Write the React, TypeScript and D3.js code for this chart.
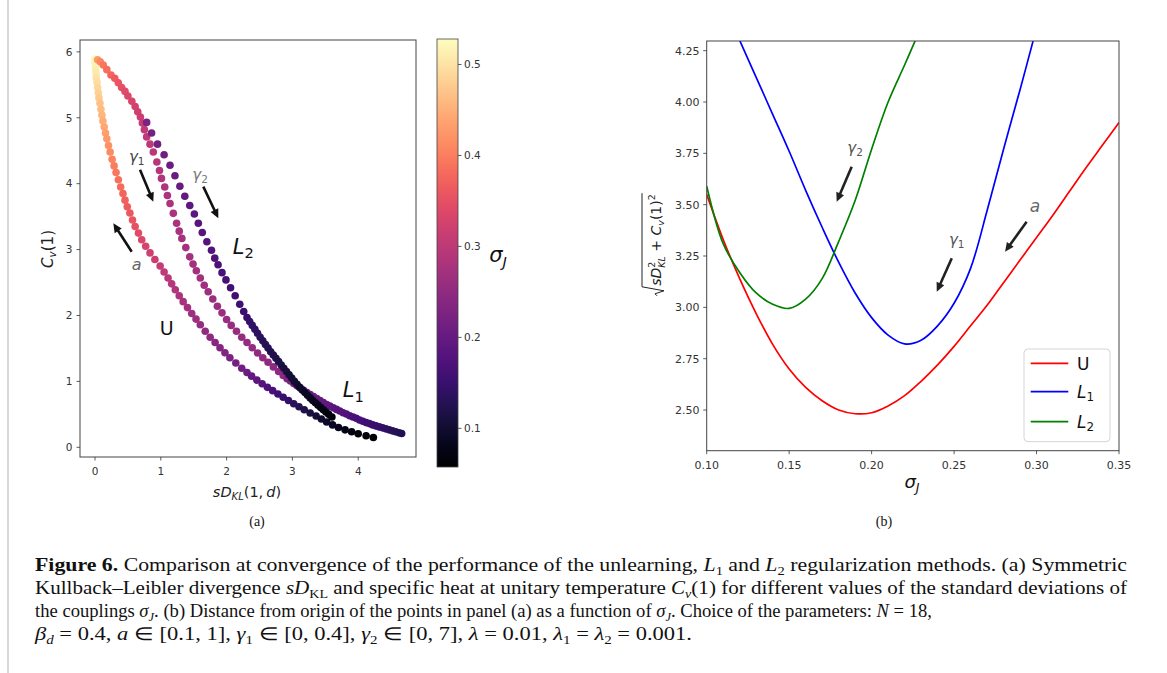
import React, { useLayoutEffect, useRef, useState } from "react";
import * as d3 from "d3";

// ---------- Panel (a): scatter points [sD_KL(1,d), Cv(1), sigma_J] ----------
const uPoints: [number, number, number][] = [
  [0.0, 5.89, 0.525], [0.0, 5.85, 0.522], [0.005, 5.8, 0.518], [0.01, 5.74, 0.513], [0.015, 5.68, 0.508],
  [0.02, 5.61, 0.502], [0.03, 5.54, 0.496], [0.04, 5.46, 0.49], [0.05, 5.38, 0.483], [0.06, 5.3, 0.476],
  [0.075, 5.22, 0.469], [0.09, 5.13, 0.462], [0.105, 5.04, 0.455], [0.12, 4.95, 0.448], [0.14, 4.86, 0.441],
  [0.16, 4.77, 0.434], [0.18, 4.68, 0.427], [0.205, 4.58, 0.42], [0.23, 4.48, 0.413], [0.26, 4.37, 0.406],
  [0.29, 4.27, 0.4], [0.32, 4.17, 0.394], [0.355, 4.06, 0.388], [0.39, 3.95, 0.382], [0.425, 3.85, 0.376],
  [0.456, 3.75, 0.371], [0.49, 3.65, 0.366], [0.53, 3.555, 0.361], [0.57, 3.45, 0.356], [0.61, 3.35, 0.351],
  [0.66, 3.25, 0.343], [0.71, 3.15, 0.336], [0.77, 3.05, 0.329], [0.836, 2.95, 0.322], [0.91, 2.85, 0.315],
  [0.99, 2.75, 0.308], [1.05, 2.66, 0.302], [1.11, 2.57, 0.297], [1.165, 2.48, 0.292], [1.22, 2.39, 0.287],
  [1.28, 2.3, 0.282], [1.34, 2.21, 0.277], [1.405, 2.12, 0.272], [1.47, 2.03, 0.267], [1.535, 1.945, 0.262],
  [1.6, 1.86, 0.257], [1.675, 1.76, 0.252], [1.75, 1.67, 0.247], [1.825, 1.59, 0.242], [1.9, 1.51, 0.237],
  [1.975, 1.435, 0.232], [2.05, 1.36, 0.226], [2.14, 1.28, 0.22], [2.23, 1.2, 0.214], [2.31, 1.135, 0.207],
  [2.38, 1.08, 0.198], [2.46, 1.02, 0.19], [2.54, 0.965, 0.182], [2.62, 0.91, 0.174], [2.7, 0.86, 0.166],
  [2.78, 0.81, 0.158], [2.86, 0.76, 0.15], [2.94, 0.71, 0.142], [3.02, 0.66, 0.134], [3.1, 0.615, 0.127],
  [3.18, 0.57, 0.12], [3.27, 0.52, 0.113], [3.36, 0.475, 0.106], [3.44, 0.43, 0.099], [3.52, 0.385, 0.093],
  [3.61, 0.34, 0.087], [3.7, 0.3, 0.082], [3.8, 0.265, 0.077], [3.9, 0.235, 0.072], [4.0, 0.205, 0.067],
  [4.12, 0.175, 0.062], [4.23, 0.15, 0.058],
];

const l1Points: [number, number, number][] = [
  [0.04, 5.88, 0.43], [0.08, 5.85, 0.41], [0.126, 5.8, 0.395], [0.18, 5.73, 0.385], [0.243, 5.65, 0.375],
  [0.3, 5.6, 0.365], [0.354, 5.53, 0.357], [0.405, 5.46, 0.35], [0.456, 5.4, 0.343], [0.5, 5.33, 0.337],
  [0.56, 5.25, 0.331], [0.61, 5.17, 0.325], [0.65, 5.09, 0.32], [0.69, 5.01, 0.315], [0.72, 4.92, 0.311],
  [0.75, 4.82, 0.307], [0.785, 4.71, 0.303], [0.836, 4.6, 0.3], [0.886, 4.48, 0.297], [0.94, 4.33, 0.294],
  [0.98, 4.2, 0.291], [1.01, 4.08, 0.288], [1.06, 3.95, 0.285], [1.1, 3.82, 0.283], [1.14, 3.7, 0.282],
  [1.19, 3.55, 0.28], [1.24, 3.4, 0.279], [1.28, 3.28, 0.278], [1.32, 3.17, 0.276], [1.38, 3.03, 0.275],
  [1.44, 2.89, 0.273], [1.49, 2.78, 0.272], [1.54, 2.68, 0.271], [1.6, 2.57, 0.269], [1.66, 2.46, 0.268],
  [1.72, 2.36, 0.266], [1.79, 2.25, 0.265], [1.86, 2.14, 0.264], [1.93, 2.04, 0.262], [2.0, 1.94, 0.261],
  [2.07, 1.85, 0.259], [2.15, 1.76, 0.258], [2.23, 1.67, 0.257], [2.31, 1.59, 0.255], [2.39, 1.51, 0.254],
  [2.47, 1.43, 0.252], [2.55, 1.36, 0.251], [2.63, 1.29, 0.25], [2.71, 1.22, 0.248], [2.79, 1.15, 0.247],
  [2.86, 1.09, 0.245],
  [2.92, 1.04, 0.23], [2.97, 1.005, 0.227], [3.02, 0.97, 0.224], [3.07, 0.935, 0.221], [3.12, 0.9, 0.218],
  [3.17, 0.865, 0.215], [3.22, 0.83, 0.212], [3.27, 0.8, 0.209], [3.32, 0.77, 0.206], [3.37, 0.74, 0.203],
  [3.42, 0.71, 0.2], [3.47, 0.68, 0.197], [3.52, 0.65, 0.194], [3.57, 0.625, 0.191], [3.62, 0.6, 0.188],
  [3.67, 0.575, 0.185], [3.72, 0.55, 0.182], [3.77, 0.525, 0.179], [3.82, 0.505, 0.176], [3.87, 0.48, 0.173],
  [3.92, 0.46, 0.17], [3.97, 0.44, 0.167], [4.02, 0.415, 0.164], [4.07, 0.395, 0.161], [4.12, 0.375, 0.158],
  [4.17, 0.36, 0.155], [4.22, 0.34, 0.152], [4.27, 0.325, 0.149], [4.32, 0.31, 0.146], [4.37, 0.295, 0.143],
  [4.42, 0.28, 0.14], [4.47, 0.265, 0.137], [4.52, 0.25, 0.134], [4.57, 0.235, 0.131], [4.62, 0.22, 0.128],
  [4.66, 0.21, 0.125],
];

const l2Points: [number, number, number][] = [
  [0.785, 4.93, 0.225], [0.86, 4.77, 0.221], [0.95, 4.6, 0.217], [1.05, 4.44, 0.213], [1.14, 4.28, 0.209],
  [1.215, 4.12, 0.205], [1.29, 3.96, 0.201], [1.365, 3.81, 0.197], [1.44, 3.67, 0.193], [1.51, 3.54, 0.189],
  [1.57, 3.4, 0.186], [1.63, 3.26, 0.183], [1.7, 3.12, 0.18], [1.77, 2.99, 0.177], [1.82, 2.87, 0.174],
  [1.87, 2.77, 0.171], [1.93, 2.65, 0.168], [1.99, 2.54, 0.165], [2.06, 2.42, 0.162], [2.13, 2.3, 0.159],
  [2.2, 2.17, 0.156], [2.26, 2.06, 0.153], [2.31, 1.97, 0.15],
  [2.35, 1.91, 0.145], [2.39, 1.85, 0.142], [2.43, 1.79, 0.14], [2.47, 1.73, 0.137], [2.51, 1.67, 0.135],
  [2.55, 1.615, 0.132], [2.59, 1.56, 0.13], [2.63, 1.505, 0.127], [2.67, 1.45, 0.125], [2.71, 1.4, 0.122],
  [2.75, 1.35, 0.12], [2.79, 1.3, 0.117], [2.83, 1.25, 0.115], [2.87, 1.2, 0.112], [2.91, 1.15, 0.11],
  [2.95, 1.1, 0.107], [2.99, 1.05, 0.105], [3.03, 1.0, 0.102], [3.07, 0.955, 0.1], [3.11, 0.91, 0.097],
  [3.15, 0.87, 0.095], [3.19, 0.83, 0.092], [3.23, 0.79, 0.09], [3.27, 0.75, 0.087], [3.31, 0.71, 0.085],
  [3.35, 0.675, 0.082], [3.39, 0.64, 0.08], [3.43, 0.605, 0.077], [3.47, 0.57, 0.075], [3.51, 0.535, 0.072],
  [3.55, 0.5, 0.07], [3.6, 0.46, 0.068],
];

// ---------- Panel (b): distance from origin vs sigma_J ----------
const uSigma = [0.1, 0.11, 0.12, 0.13, 0.14, 0.15, 0.16, 0.17, 0.18, 0.19, 0.2, 0.21, 0.22, 0.23, 0.24, 0.25, 0.26, 0.27, 0.28, 0.29, 0.3, 0.31, 0.32, 0.33, 0.34, 0.35];
const uDist = [3.55, 3.33, 3.14, 2.97, 2.82, 2.7, 2.61, 2.545, 2.5, 2.482, 2.487, 2.52, 2.57, 2.64, 2.72, 2.81, 2.91, 3.01, 3.12, 3.23, 3.34, 3.45, 3.565, 3.68, 3.79, 3.9];
const l1Sigma = [0.12, 0.13, 0.14, 0.15, 0.16, 0.17, 0.18, 0.19, 0.2, 0.21, 0.22, 0.23, 0.24, 0.25, 0.26, 0.27, 0.28, 0.29, 0.298];
const l1Dist = [4.3, 4.12, 3.94, 3.76, 3.57, 3.39, 3.22, 3.07, 2.95, 2.865, 2.822, 2.84, 2.91, 3.02, 3.19, 3.47, 3.77, 4.06, 4.3];
const l2Sigma = [0.1, 0.11, 0.12, 0.13, 0.14, 0.15, 0.16, 0.17, 0.18, 0.19, 0.2, 0.21, 0.22, 0.2265];
const l2Dist = [3.59, 3.31, 3.17, 3.07, 3.015, 2.995, 3.04, 3.14, 3.32, 3.52, 3.77, 4.0, 4.18, 4.3];

const xTicksA = [0, 1, 2, 3, 4];
const yTicksA = [0, 1, 2, 3, 4, 5, 6];
const cbTicks = [0.1, 0.2, 0.3, 0.4, 0.5];
const xTicksB = [0.1, 0.15, 0.2, 0.25, 0.3, 0.35];
const yTicksB = [2.5, 2.75, 3.0, 3.25, 3.5, 3.75, 4.0, 4.25];

// annotation arrows [x1, y1, x2, y2] in data units (head at x2,y2)
const arrowsA: [number, number, number, number][] = [
  [0.684, 4.21, 0.886, 3.727],
  [1.646, 3.955, 1.874, 3.475],
  [0.558, 2.968, 0.278, 3.399],
];
const arrowsB: [number, number, number, number][] = [
  [0.1879, 3.685, 0.1788, 3.514],
  [0.2486, 3.239, 0.2395, 3.076],
  [0.294, 3.417, 0.2809, 3.271],
];

const W = 1167;
const H = 673;
const SANS = "DejaVu Sans, sans-serif";
const SERIF = "Liberation Serif, Times New Roman, serif";

function Arrow({ x1, y1, x2, y2, color = "#111" }: { x1: number; y1: number; x2: number; y2: number; color?: string }) {
  const dx = x2 - x1, dy = y2 - y1;
  const L = Math.hypot(dx, dy);
  const ux = dx / L, uy = dy / L;
  const hl = 9, hw = 4.2;
  const bx = x2 - ux * hl, by = y2 - uy * hl;
  const px = -uy, py = ux;
  return (
    <g>
      <line x1={x1} y1={y1} x2={bx + ux * 1} y2={by + uy * 1} stroke={color} strokeWidth={2.6} strokeLinecap="butt" />
      <polygon points={`${x2},${y2} ${bx + px * hw},${by + py * hw} ${bx - px * hw},${by - py * hw}`} fill={color} />
    </g>
  );
}

function SubLabel({ x, y, main, sub, size, italicMain = true, italicSub = false, color = "#111", anchor = "middle" }:
  { x: number; y: number; main: string; sub: string; size: number; italicMain?: boolean; italicSub?: boolean; color?: string; anchor?: string }) {
  return (
    <text x={x} y={y} fontFamily={SANS} fontSize={size} fill={color} textAnchor={anchor as any}>
      <tspan fontStyle={italicMain ? "italic" : "normal"}>{main}</tspan>
      <tspan fontSize={size * 0.7} dy={size * 0.22} fontStyle={italicSub ? "italic" : "normal"}>{sub}</tspan>
    </text>
  );
}

function YLabelB() {
  const ref = useRef<SVGTextElement>(null);
  const [w, setW] = useState(98);
  useLayoutEffect(() => {
    if (ref.current) setW(ref.current.getBBox().width);
  }, []);
  const tx = -w / 2 + 4;
  return (
    <g transform="translate(657,244) rotate(-90)">
      <path d={`M ${tx - 10} 0 L ${tx - 8} -2 L ${tx - 5} 7 L ${tx - 1} -15 L ${tx + w + 1} -15`} fill="none" stroke="#222" strokeWidth={1} />
      <text ref={ref} x={tx} y={4} fontFamily={SANS} fontSize={14} fill="#222">
        <tspan fontStyle="italic">sD</tspan>
        <tspan fontSize={9.5} dy={-6}>2</tspan>
        <tspan fontSize={9.5} dx={-6} dy={10} fontStyle="italic">KL</tspan>
        <tspan dy={-4}> + </tspan>
        <tspan fontStyle="italic">C</tspan>
        <tspan fontSize={9.5} dy={3} fontStyle="italic">v</tspan>
        <tspan dy={-3}>(1)</tspan>
        <tspan fontSize={9.5} dy={-6}>2</tspan>
      </text>
    </g>
  );
}

export default function App() {
  // scales panel (a)
  const xA = d3.scaleLinear().domain([-0.228, 4.878]).range([80, 416]);
  const yA = d3.scaleLinear().domain([-0.147, 6.18]).range([457, 40]);
  const color = d3.scaleSequential(d3.interpolateMagma).domain([0.0575, 0.528]);
  const cbY = d3.scaleLinear().domain([0.0575, 0.528]).range([467, 39]);
  // scales panel (b)
  const xB = d3.scaleLinear().domain([0.1, 0.35]).range([706.7, 1119]);
  const yB = d3.scaleLinear().domain([2.302, 4.297]).range([450.7, 41]);

  const line = (xs: number[], ys: number[]) =>
    d3.line<number>().x((_, i) => xB(xs[i])).y((_, i) => yB(ys[i])).curve(d3.curveCatmullRom.alpha(0.5))(xs.map((_, i) => i)) || "";

  const gradStops = d3.range(0, 1.0001, 0.05);

  const tickColor = "#333";
  const frameColor = "#444";
  const R = 3.8;

  return (
    <div style={{ position: "absolute", left: 0, top: 0, width: W, height: H, background: "#fff" }}>
      <svg width={W} height={H} viewBox={`0 0 ${W} ${H}`} style={{ display: "block" }}>
        <defs>
          <linearGradient id="magma" x1="0" y1="1" x2="0" y2="0">
            {gradStops.map((t) => (
              <stop key={t} offset={t} stopColor={d3.interpolateMagma(t)} />
            ))}
          </linearGradient>
          <clipPath id="clipB">
            <rect x={706.7} y={41} width={1119 - 706.7} height={450.7 - 41} />
          </clipPath>
        </defs>
        <rect x={0} y={0} width={W} height={H} fill="#fff" />
        <line x1={8} y1={0} x2={8} y2={H} stroke="#cfcfcf" strokeWidth={1.6} />

        {/* ---------------- Panel (a) ---------------- */}
        <g>
          {uPoints.map((p, i) => (
            <circle key={"u" + i} cx={xA(p[0])} cy={yA(p[1])} r={R} fill={color(p[2])} />
          ))}
          {l1Points.map((p, i) => (
            <circle key={"l1" + i} cx={xA(p[0])} cy={yA(p[1])} r={R} fill={color(p[2])} />
          ))}
          {l2Points.map((p, i) => (
            <circle key={"l2" + i} cx={xA(p[0])} cy={yA(p[1])} r={R} fill={color(p[2])} />
          ))}
          <rect x={80} y={40} width={336} height={417} fill="none" stroke={frameColor} strokeWidth={1} />
          {xTicksA.map((t) => (
            <g key={"xa" + t}>
              <line x1={xA(t)} x2={xA(t)} y1={457} y2={460.5} stroke={tickColor} strokeWidth={0.8} />
              <text x={xA(t)} y={475} textAnchor="middle" fontFamily={SANS} fontSize={10.5} fill={tickColor}>{t}</text>
            </g>
          ))}
          {yTicksA.map((t) => (
            <g key={"ya" + t}>
              <line x1={76.5} x2={80} y1={yA(t)} y2={yA(t)} stroke={tickColor} strokeWidth={0.8} />
              <text x={72.5} y={yA(t) + 3.8} textAnchor="end" fontFamily={SANS} fontSize={10.5} fill={tickColor}>{t}</text>
            </g>
          ))}
          {/* axis labels */}
          <text x={247} y={497} textAnchor="middle" fontFamily={SANS} fontSize={14.5} fill="#222">
            <tspan fontStyle="italic">sD</tspan>
            <tspan fontSize={10} dy={3} fontStyle="italic">KL</tspan>
            <tspan dy={-3}>(1,</tspan>
            <tspan fontStyle="italic" dx={3}>d</tspan>
            <tspan>)</tspan>
          </text>
          <g transform="translate(53,249) rotate(-90)">
            <text x={0} y={0} textAnchor="middle" fontFamily={SANS} fontSize={15} fill="#222">
              <tspan fontStyle="italic">C</tspan>
              <tspan fontSize={10.5} dy={3} fontStyle="italic">v</tspan>
              <tspan dy={-3}>(1)</tspan>
            </text>
          </g>
          {/* annotations */}
          {arrowsA.map((a, i) => (
            <Arrow key={"aa" + i} x1={xA(a[0])} y1={yA(a[1])} x2={xA(a[2])} y2={yA(a[3])} />
          ))}
          <SubLabel x={xA(0.634)} y={yA(4.41) + 5} main="γ" sub="1" size={15} color="#444" />
          <SubLabel x={xA(1.596)} y={yA(4.13) + 5} main="γ" sub="2" size={15} color="#777" />
          <text x={xA(0.634)} y={yA(2.77) + 5} textAnchor="middle" fontFamily={SANS} fontSize={16} fontStyle="italic" fill="#666">a</text>
          <SubLabel x={xA(2.254)} y={yA(3.044) + 7} main="L" sub="2" size={21} color="#111" />
          <SubLabel x={xA(3.926)} y={yA(0.87) + 7} main="L" sub="1" size={21} color="#111" />
          <text x={xA(1.09)} y={yA(1.806) + 7} textAnchor="middle" fontFamily={SANS} fontSize={19} fill="#111">U</text>
        </g>

        {/* colorbar */}
        <g>
          <rect x={437} y={39} width={21} height={428} fill="url(#magma)" />
          <rect x={437} y={39} width={21} height={428} fill="none" stroke={frameColor} strokeWidth={0.8} />
          {cbTicks.map((t) => (
            <g key={"cb" + t}>
              <line x1={458} x2={461.5} y1={cbY(t)} y2={cbY(t)} stroke={tickColor} strokeWidth={0.8} />
              <text x={464} y={cbY(t) + 3.8} fontFamily={SANS} fontSize={10.5} fill={tickColor}>{t.toFixed(1)}</text>
            </g>
          ))}
          <SubLabel x={498} y={262} main="σ" sub="J" size={21} italicSub={true} color="#111" />
        </g>

        {/* ---------------- Panel (b) ---------------- */}
        <g>
          <g clipPath="url(#clipB)">
            <path d={line(uSigma, uDist)} fill="none" stroke="#ff0000" strokeWidth={1.7} />
            <path d={line(l1Sigma, l1Dist)} fill="none" stroke="#0000ff" strokeWidth={1.7} />
            <path d={line(l2Sigma, l2Dist)} fill="none" stroke="#008000" strokeWidth={1.7} />
          </g>
          <rect x={706.7} y={41} width={1119 - 706.7} height={450.7 - 41} fill="none" stroke={frameColor} strokeWidth={1} />
          {xTicksB.map((t) => (
            <g key={"xb" + t}>
              <line x1={xB(t)} x2={xB(t)} y1={450.7} y2={454.2} stroke={tickColor} strokeWidth={0.8} />
              <text x={xB(t)} y={469} textAnchor="middle" fontFamily={SANS} fontSize={11} fill={tickColor}>{t.toFixed(2)}</text>
            </g>
          ))}
          {yTicksB.map((t) => (
            <g key={"yb" + t}>
              <line x1={703.2} x2={706.7} y1={yB(t)} y2={yB(t)} stroke={tickColor} strokeWidth={0.8} />
              <text x={699.5} y={yB(t) + 4} textAnchor="end" fontFamily={SANS} fontSize={11} fill={tickColor}>{t.toFixed(2)}</text>
            </g>
          ))}
          <SubLabel x={912} y={488} main="σ" sub="J" size={18} italicSub={true} color="#111" />
          <YLabelB />
          {arrowsB.map((a, i) => (
            <Arrow key={"ab" + i} x1={xB(a[0])} y1={yB(a[1])} x2={xB(a[2])} y2={yB(a[3])} color="#222" />
          ))}
          <SubLabel x={xB(0.19)} y={yB(3.775) + 5} main="γ" sub="2" size={15} color="#555" />
          <SubLabel x={xB(0.2516)} y={yB(3.328) + 5} main="γ" sub="1" size={15} color="#555" />
          <text x={xB(0.2991)} y={yB(3.49) + 5} textAnchor="middle" fontFamily={SANS} fontSize={17} fontStyle="italic" fill="#666">a</text>
          {/* legend */}
          <rect x={1024} y={349} width={86} height={92.7} rx={4} fill="#fff" fillOpacity={0.85} stroke="#d5d5d5" strokeWidth={1} />
          <line x1={1030.7} x2={1068.3} y1={363.3} y2={363.3} stroke="#ff0000" strokeWidth={1.7} />
          <line x1={1030.7} x2={1068.3} y1={391.7} y2={391.7} stroke="#0000ff" strokeWidth={1.7} />
          <line x1={1030.7} x2={1068.3} y1={421.7} y2={421.7} stroke="#008000" strokeWidth={1.7} />
          <text x={1077} y={369.5} fontFamily={SANS} fontSize={17} fill="#111">U</text>
          <SubLabel x={1077} y={397.5} main="L" sub="1" size={17} anchor="start" />
          <SubLabel x={1077} y={427.5} main="L" sub="2" size={17} anchor="start" />
        </g>

        {/* panel letters */}
        <text x={257} y={526} textAnchor="middle" fontFamily={SERIF} fontSize={14} fill="#111">(a)</text>
        <text x={884} y={526} textAnchor="middle" fontFamily={SERIF} fontSize={14} fill="#111">(b)</text>

        {/* caption */}
        <g fontFamily={SERIF} fontSize={18} fill="#111">
          <text x={35} y={571} textLength={1092} lengthAdjust="spacingAndGlyphs">
            <tspan fontWeight="bold">Figure 6.</tspan> Comparison at convergence of the performance of the unlearning, <tspan fontStyle="italic">L</tspan>
            <tspan fontSize={12} dy={4}>1</tspan><tspan dy={-4}> and </tspan><tspan fontStyle="italic">L</tspan>
            <tspan fontSize={12} dy={4}>2</tspan><tspan dy={-4}> regularization methods. (a) Symmetric</tspan>
          </text>
          <text x={35} y={594} textLength={1092} lengthAdjust="spacingAndGlyphs">
            Kullback–Leibler divergence <tspan fontStyle="italic">sD</tspan><tspan fontSize={12} dy={4}>KL</tspan>
            <tspan dy={-4}> and specific heat at unitary temperature </tspan><tspan fontStyle="italic">C</tspan>
            <tspan fontSize={12} dy={4} fontStyle="italic">v</tspan><tspan dy={-4}>(1) for different values of the standard deviations of</tspan>
          </text>
          <text x={35} y={617} textLength={897} lengthAdjust="spacingAndGlyphs">
            the couplings <tspan fontStyle="italic">σ</tspan><tspan fontSize={12} dy={4} fontStyle="italic">J</tspan>
            <tspan dy={-4}>. (b) Distance from origin of the points in panel (a) as a function of </tspan><tspan fontStyle="italic">σ</tspan>
            <tspan fontSize={12} dy={4} fontStyle="italic">J</tspan><tspan dy={-4}>. Choice of the parameters: </tspan>
            <tspan fontStyle="italic">N</tspan> = 18,
          </text>
          <text x={35} y={640} textLength={657} lengthAdjust="spacingAndGlyphs">
            <tspan fontStyle="italic">β</tspan><tspan fontSize={12} dy={4} fontStyle="italic">d</tspan>
            <tspan dy={-4}> = 0.4, </tspan><tspan fontStyle="italic">a</tspan> ∈ [0.1, 1], <tspan fontStyle="italic">γ</tspan>
            <tspan fontSize={12} dy={4}>1</tspan><tspan dy={-4}> ∈ [0, 0.4], </tspan><tspan fontStyle="italic">γ</tspan>
            <tspan fontSize={12} dy={4}>2</tspan><tspan dy={-4}> ∈ [0, 7], </tspan><tspan fontStyle="italic">λ</tspan> = 0.01, <tspan fontStyle="italic">λ</tspan>
            <tspan fontSize={12} dy={4}>1</tspan><tspan dy={-4}> = </tspan><tspan fontStyle="italic">λ</tspan>
            <tspan fontSize={12} dy={4}>2</tspan><tspan dy={-4}> = 0.001.</tspan>
          </text>
        </g>
      </svg>
    </div>
  );
}
